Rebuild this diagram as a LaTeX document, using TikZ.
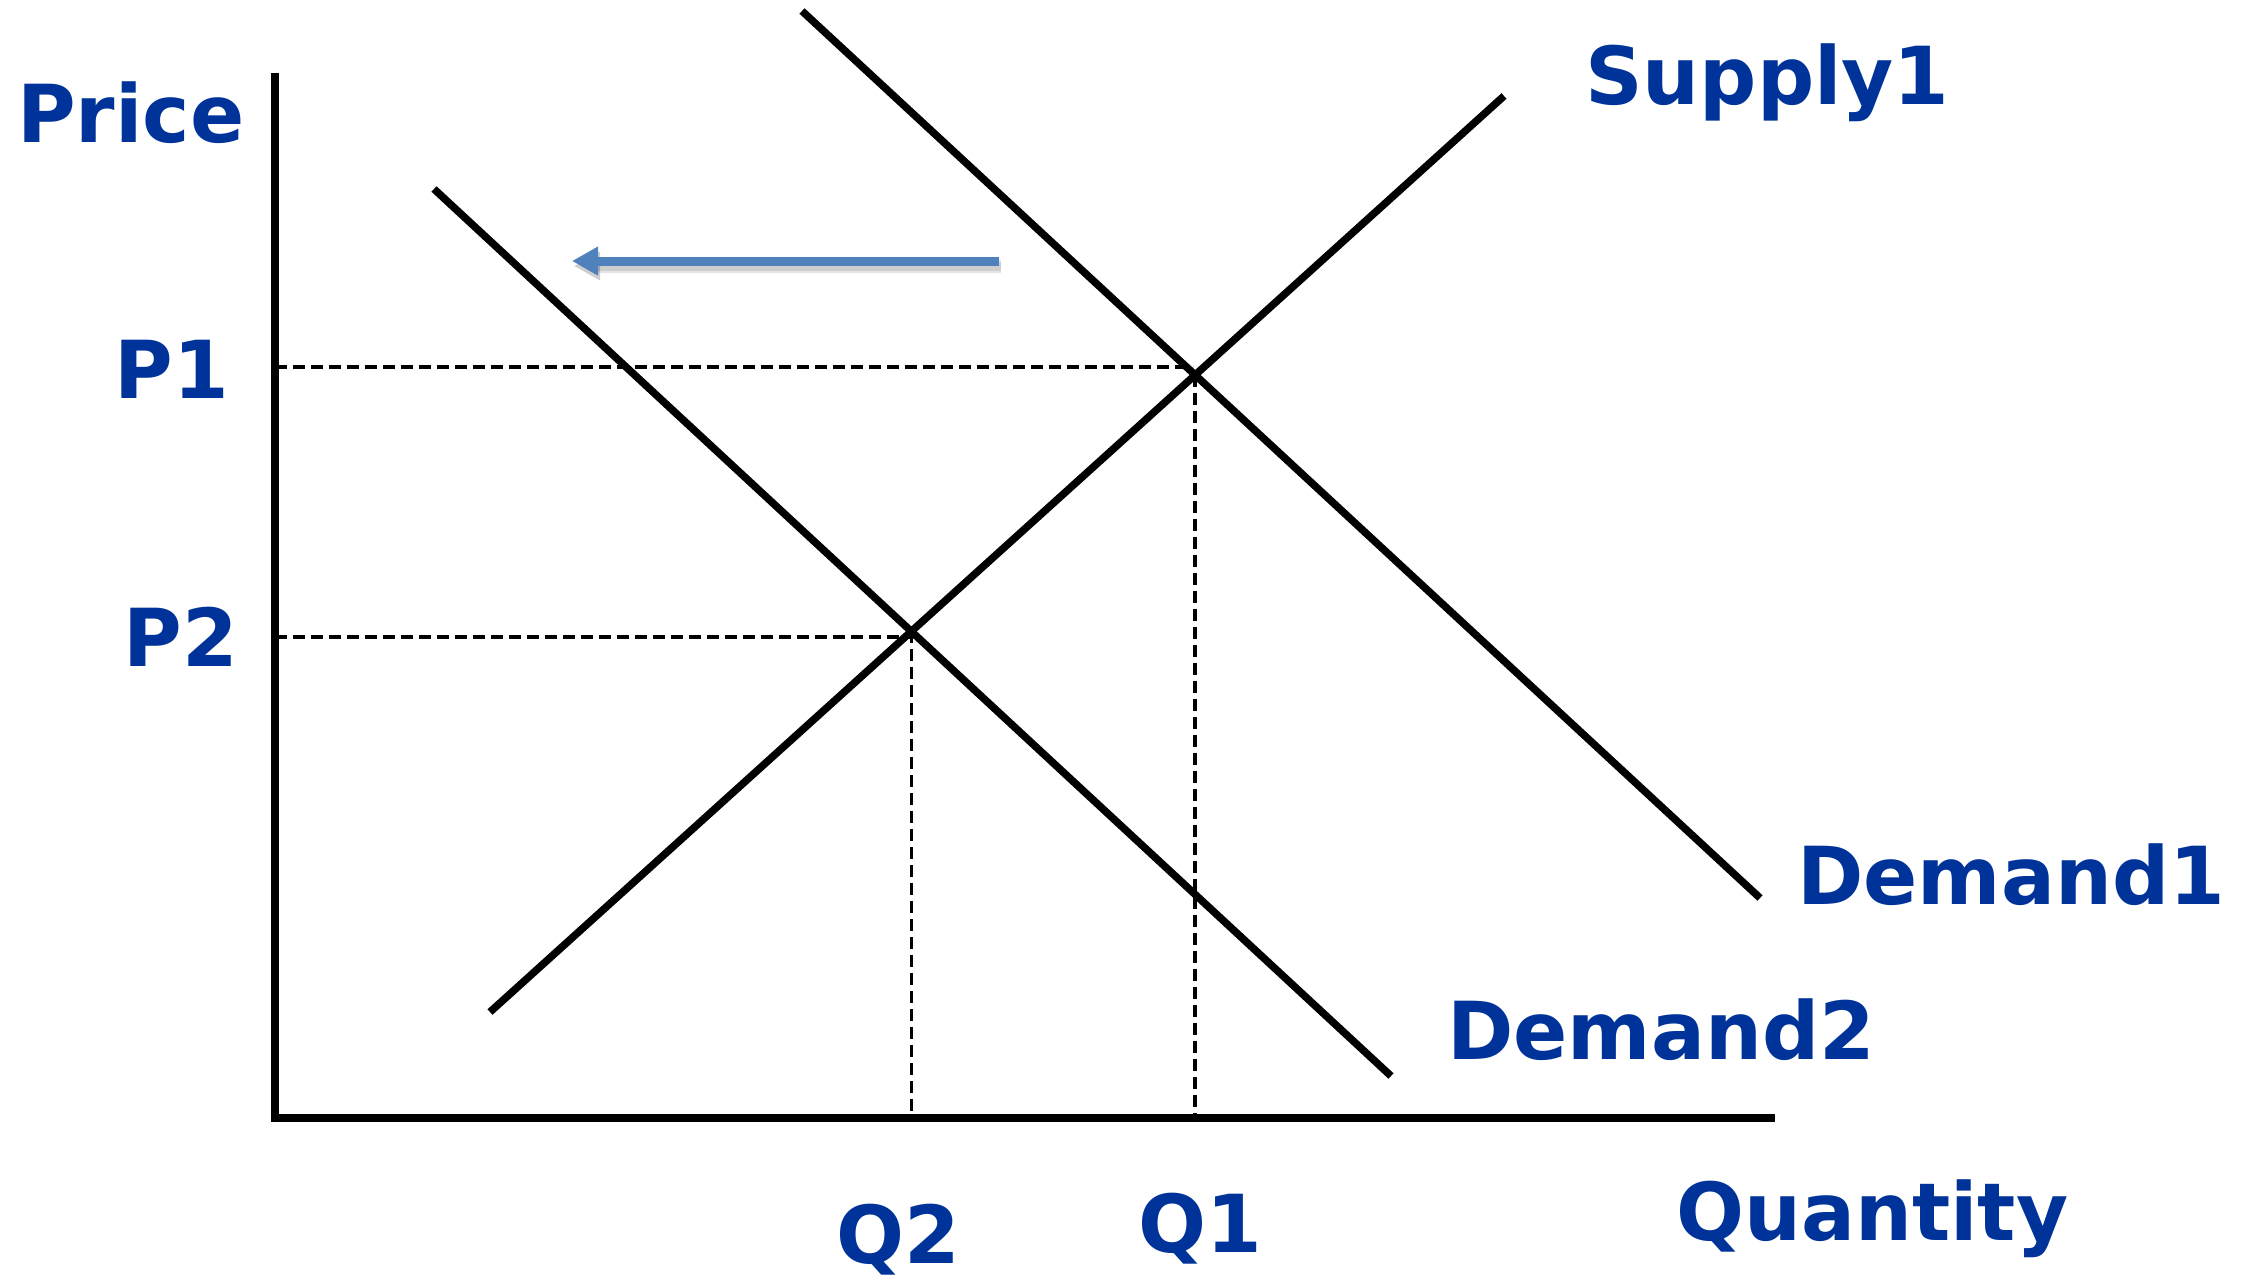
\documentclass[tikz,border=0pt]{standalone}
\usepackage{fontspec}
\setmainfont{DejaVu Sans}
\usetikzlibrary{arrows.meta}
\definecolor{labelblue}{RGB}{0,51,153}
\definecolor{shiftblue}{RGB}{79,129,189}
\begin{document}
\begin{tikzpicture}[x=1pt,y=-1pt,
  axisline/.style={line width=8pt},
  curve/.style={line width=7.5pt},
  guide/.style={line width=3.5pt,dash pattern=on 12pt off 6pt},
  lbl/.style={text=labelblue,font=\fontsize{80}{96}\selectfont\bfseries,inner sep=0pt},
  shiftarrow/.style={draw=shiftblue,line width=9pt,-{Triangle[length=26pt,width=27pt]}},
  arrowshade/.style={shiftarrow,draw=black,opacity=0.10,transform canvas={shift={(2pt,-5pt)}}}]
\useasboundingbox (0,0) rectangle (2247,1283);

% axes
\coordinate (ytop) at (275,73);
\coordinate (origin) at (275,1118);
\coordinate (xend) at (1775,1118);
\draw[axisline] (ytop) -- (origin) -- (xend);

% supply and demand curves
\coordinate (s0) at (490,1012);
\coordinate (s1) at (1504,96);
\coordinate (da0) at (802,11);
\coordinate (da1) at (1760,898);
\coordinate (db0) at (434,189);
\coordinate (db1) at (1391,1076);
\draw[curve] (s0) -- (s1);
\draw[curve] (da0) -- (da1);
\draw[curve] (db0) -- (db1);

% equilibrium points
\coordinate (e1) at (intersection of s0--s1 and da0--da1);
\coordinate (e2) at (intersection of s0--s1 and db0--db1);

% price and quantity guides
\coordinate (p1lvl) at (1193,367);
\coordinate (p2lvl) at (913,637);
\draw[guide] (origin |- p1lvl) -- (p1lvl);
\draw[guide] (origin |- p2lvl) -- (p2lvl);
\draw[guide] (e1) -- (origin -| e1);
\draw[guide] (e2) -- (origin -| e2);

% demand shift
\coordinate (shiftfrom) at (999,261);
\coordinate (shiftto) at (572,261);
\draw[arrowshade,line width=13pt] (shiftfrom) -- (shiftto);
\draw[arrowshade] (shiftfrom) -- (shiftto);
\draw[shiftarrow] (shiftfrom) -- (shiftto);

% labels
\node[lbl,anchor=base west] (price) at (17,142) {Price};
\node[lbl,anchor=base east] (p1) at (229,398) {P1};
\node[lbl,anchor=base east] (p2) at (238,666) {P2};
\node[lbl,anchor=base west] (supply) at (1585,104) {Supply1};
\node[lbl,anchor=base west] (demand1) at (1797,904) {Demand1};
\node[lbl,anchor=base west] (demand2) at (1447,1059) {Demand2};
\node[lbl,anchor=base] (q2) at (898,1263) {Q2};
\node[lbl,anchor=base] (q1) at (1200,1252) {Q1};
\node[lbl,anchor=base west] (quantity) at (1676,1240) {Quantity};
\end{tikzpicture}
\end{document}
